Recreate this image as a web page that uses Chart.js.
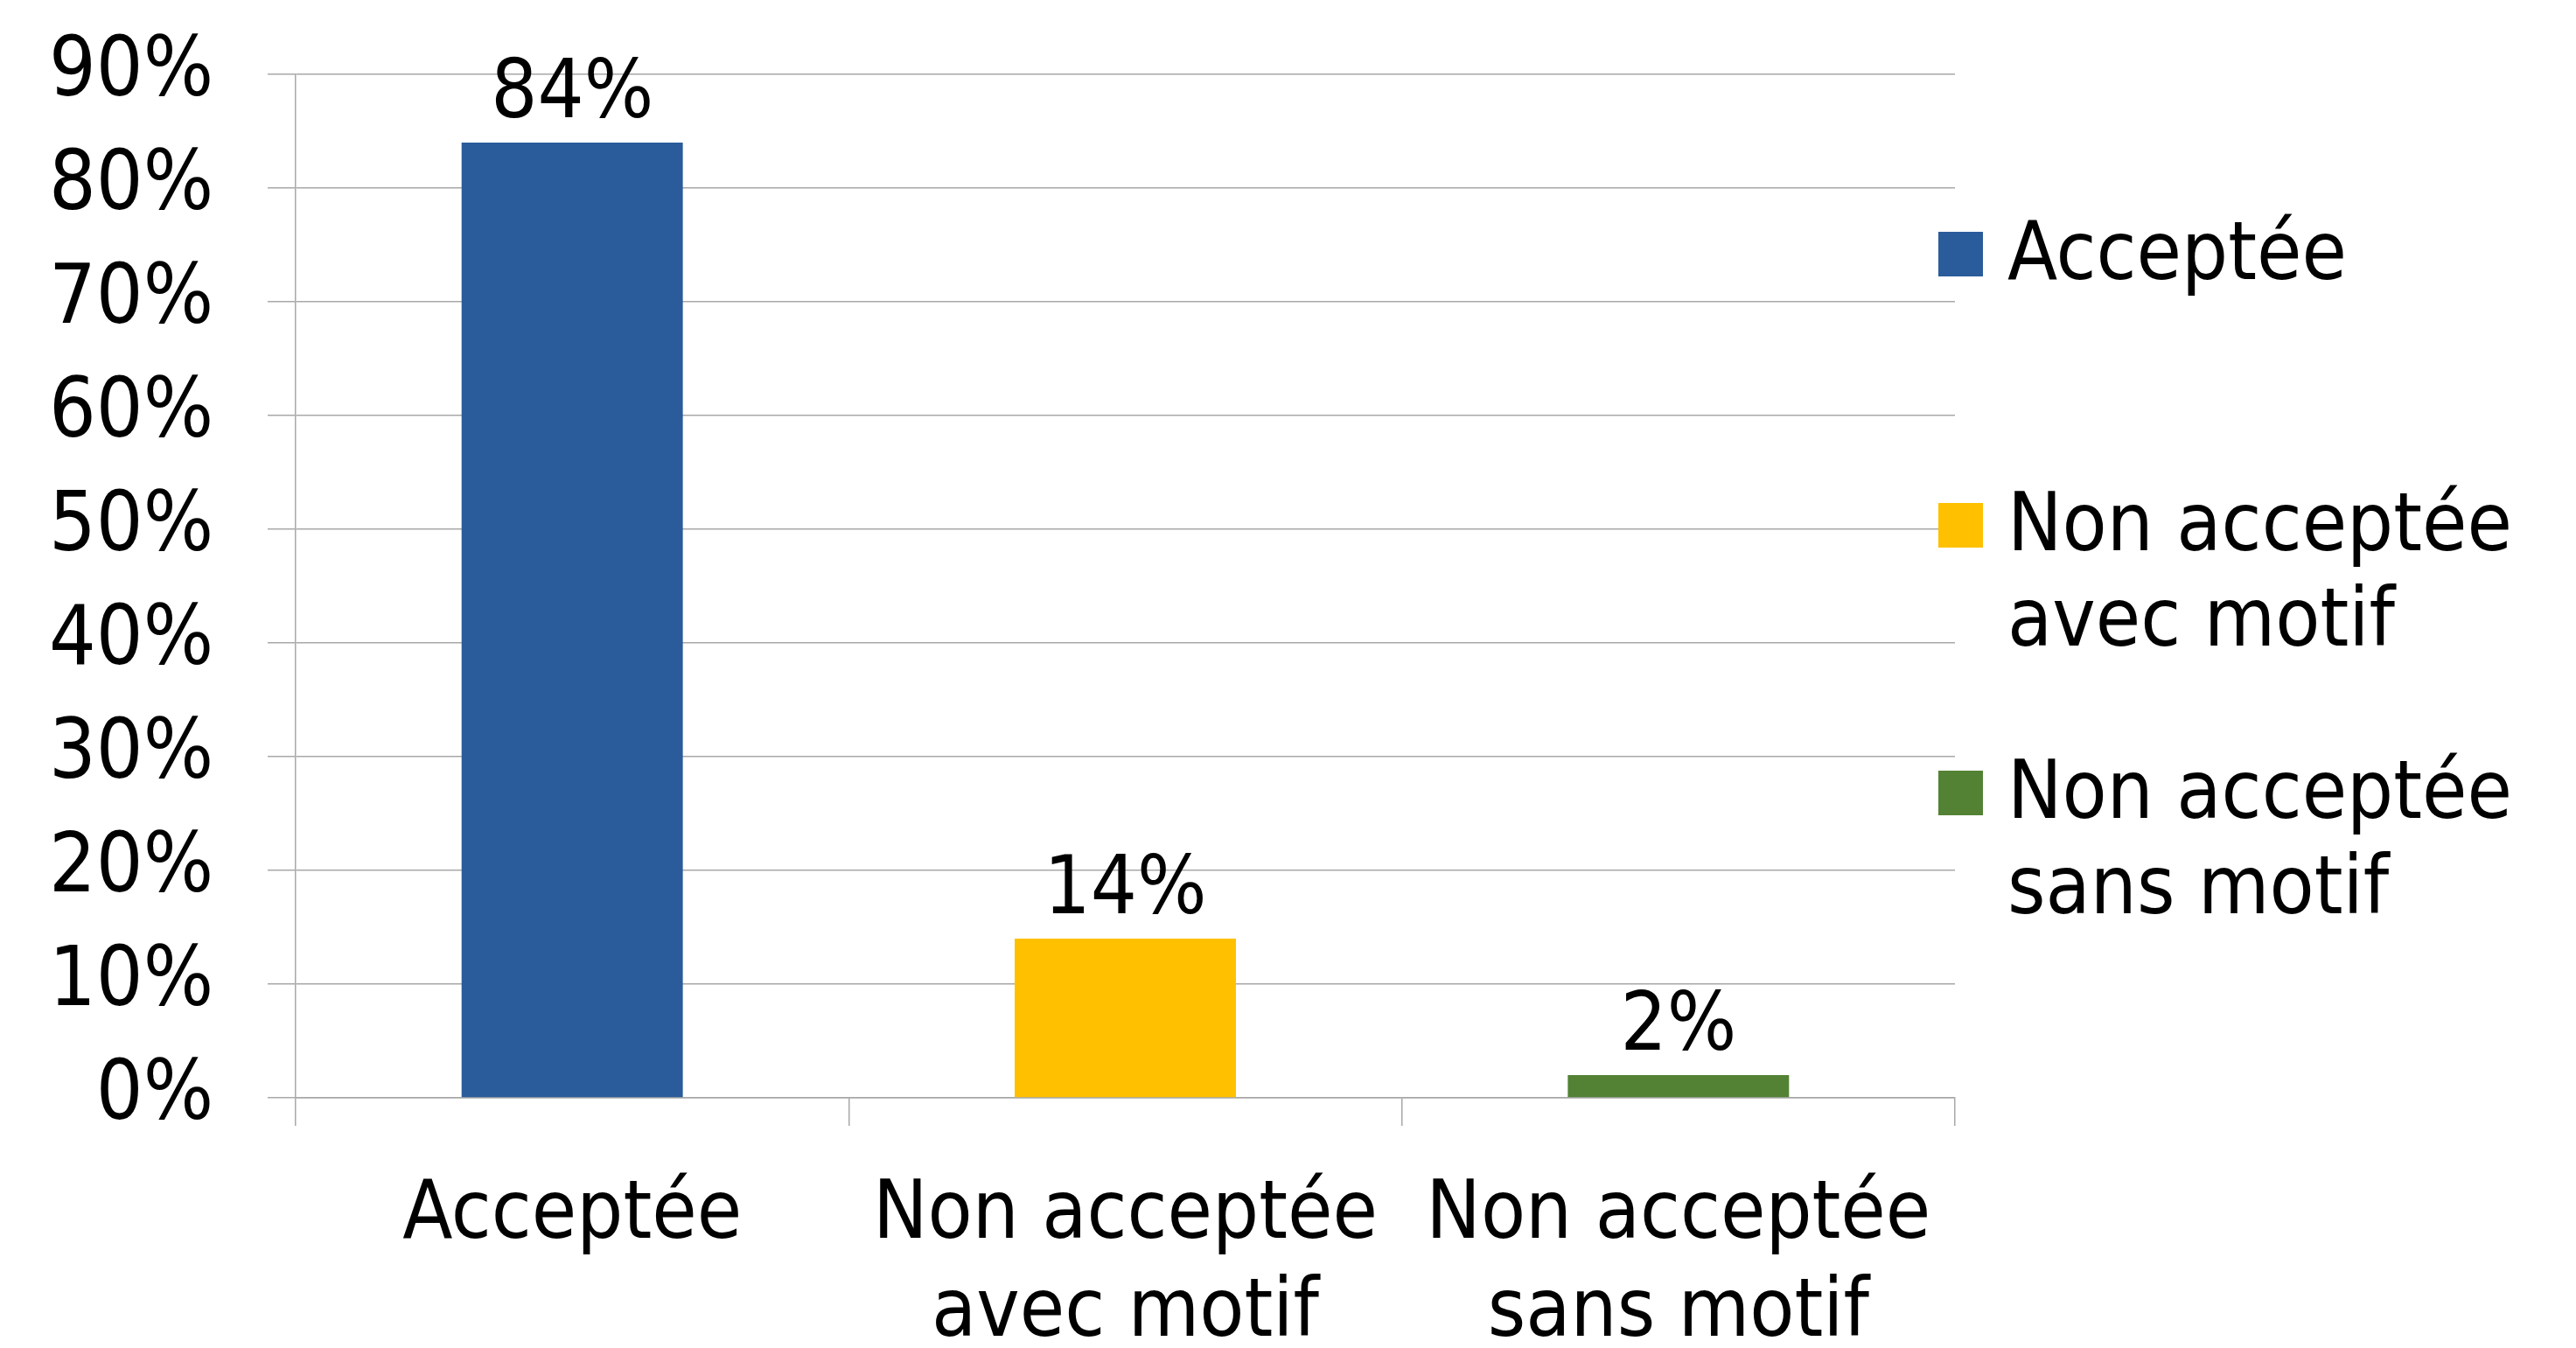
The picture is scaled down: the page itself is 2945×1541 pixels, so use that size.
<!DOCTYPE html>
<html>
<head>
<meta charset="utf-8">
<script src="https://cdn.jsdelivr.net/npm/chart.js@4.4.1/dist/chart.umd.min.js"></script>
<style>
  html, body { margin: 0; padding: 0; background: #fff; }
  canvas { display: block; }
</style>
</head>
<body>
<canvas id="chartCanvas" width="2945" height="1541"></canvas>
<script>
// data
const categories = ['Acceptée', 'Non acceptée avec motif', 'Non acceptée sans motif'];
const categoryLines = [['Acceptée'], ['Non acceptée', 'avec motif'], ['Non acceptée', 'sans motif']];
const shares = [0.84, 0.14, 0.02];
const barColors = ['#2A5C9B', '#FFC000', '#548235'];
const yMax = 0.9;
const yStep = 0.1;

const FONT = '"DejaVu Sans Condensed", "DejaVu Sans", "Liberation Sans", sans-serif';
const gridGray = '#A8A8A8';

function pct(v) {
  return Math.round(v * 100) + '%';
}

// value labels above bars
const valueLabels = {
  id: 'valueLabels',
  afterDatasetsDraw(chart) {
    const ctx = chart.ctx;
    const meta = chart.getDatasetMeta(0);
    ctx.save();
    ctx.font = '93px ' + FONT;
    ctx.fillStyle = '#000';
    ctx.textAlign = 'center';
    ctx.textBaseline = 'alphabetic';
    meta.data.forEach((bar, i) => {
      ctx.fillText(pct(shares[i]), bar.x, bar.y - 29);
    });
    ctx.restore();
  }
};

// legend on the right, with wrapped labels
const sideLegend = {
  id: 'sideLegend',
  afterDraw(chart) {
    const ctx = chart.ctx;
    const rows = [291, 601, 907];
    ctx.save();
    ctx.font = '93px ' + FONT;
    ctx.textAlign = 'left';
    ctx.textBaseline = 'middle';
    categoryLines.forEach((lines, i) => {
      ctx.fillStyle = barColors[i];
      ctx.fillRect(2216, rows[i] - 26, 51, 51);
      ctx.fillStyle = '#000';
      lines.forEach((t, k) => {
        ctx.fillText(t, 2295, rows[i] + 4 + k * 109);
      });
    });
    ctx.restore();
  }
};

const ctx = document.getElementById('chartCanvas').getContext('2d');
const chart = new Chart(ctx, {
  type: 'bar',
  data: {
    labels: categoryLines,
    datasets: [{
      label: 'Part',
      data: shares,
      backgroundColor: barColors,
      borderWidth: 0,
      categoryPercentage: 1.0,
      barPercentage: 0.4
    }]
  },
  options: {
    responsive: false,
    animation: false,
    layout: {
      padding: { left: 0, right: 710, top: 85, bottom: 0 }
    },
    plugins: {
      legend: { display: false },
      tooltip: { enabled: false },
      title: { display: false }
    },
    scales: {
      x: {
        afterFit: (scale) => {
          scale.height = 286;
          scale.paddingLeft = 0;
          scale.paddingRight = 0;
        },
        grid: {
          offset: true,
          drawOnChartArea: false,
          drawTicks: true,
          tickLength: 32,
          color: gridGray,
          lineWidth: 1.5
        },
        border: { display: true, color: gridGray, width: 1.5 },
        ticks: {
          color: '#000',
          font: { family: FONT, size: 93, lineHeight: 1.2 },
          padding: 48,
          maxRotation: 0,
          autoSkip: false
        }
      },
      y: {
        min: 0,
        max: yMax,
        afterFit: (scale) => {
          scale.width = 338;
          scale.paddingTop = 0;
          scale.paddingBottom = 0;
        },
        grid: {
          color: gridGray,
          lineWidth: 1.5,
          tickLength: 32
        },
        border: { display: true, color: gridGray, width: 1.5 },
        ticks: {
          stepSize: yStep,
          color: '#000',
          padding: 62,
          font: { family: FONT, size: 94 },
          callback: (v) => pct(v)
        }
      }
    }
  },
  plugins: [valueLabels, sideLegend]
});
</script>
</body>
</html>
